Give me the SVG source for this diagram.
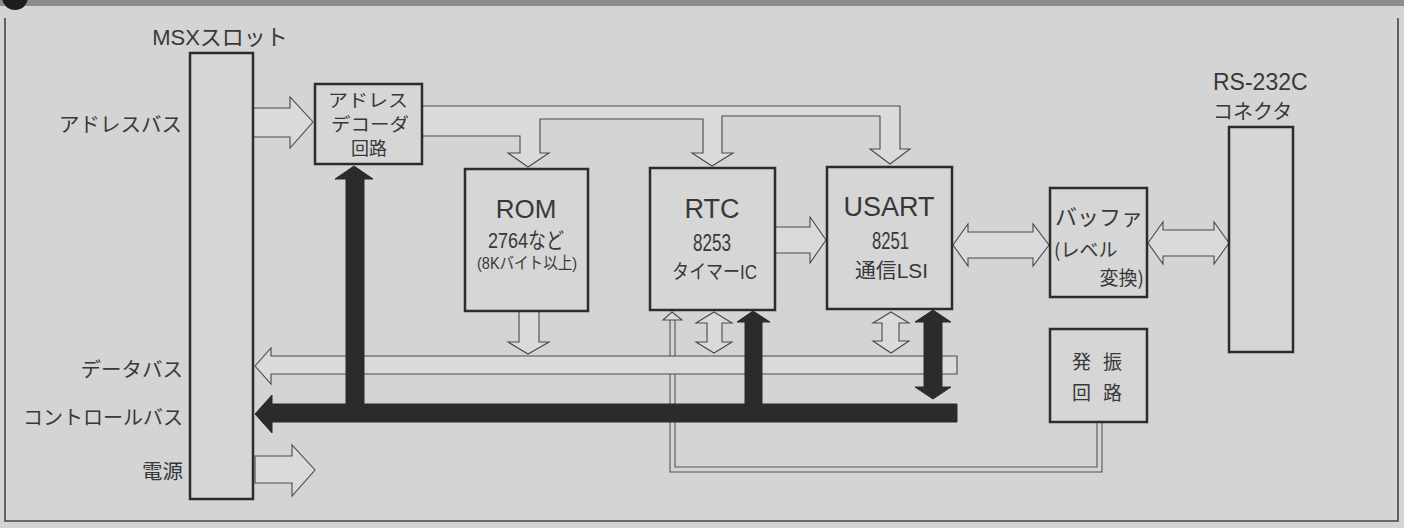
<svg xmlns="http://www.w3.org/2000/svg" width="1404" height="528" viewBox="0 0 1404 528">
<defs>
<style>
.box{fill:#d6d6d6;stroke:#2c2c2c;stroke-width:2.5}
.hol{fill:#dadada;stroke:#4a4a4a;stroke-width:1.1;stroke-linejoin:miter}
.blk{fill:#2b2b2b;stroke:#2b2b2b;stroke-width:1}
.thin{fill:none;stroke:#555;stroke-width:1.1}
.frame{fill:none;stroke:#444;stroke-width:1.6}
text{fill:#383838;font-family:"Liberation Sans","Noto Sans CJK JP",sans-serif}
.jp{font-family:"Noto Sans CJK JP","Liberation Sans",sans-serif}
</style>
</defs>
<rect x="0" y="0" width="1404" height="528" fill="#d4d4d4"/>
<rect x="0" y="0" width="1404" height="6" fill="#8c8c8c"/>
<circle cx="15" cy="-3" r="13" fill="#1e1e1e"/>
<path class="frame" d="M5,18 V521 H1398 V18"/>

<g id="connectors">
  <!-- clock line from oscillator to RTC -->
  <polyline class="thin" points="675,320 675,467 1097,467 1097,422"/>
  <polyline class="thin" points="670,320 670,472 1102,472 1102,422"/>
  <path class="hol" d="M672,312 L682,320 H663 Z"/>
  <!-- address bus slot -> decoder -->
  <path class="hol" d="M252,108 H290 V97 L313,122 L290,148 V137 H252 Z"/>
  <!-- address bus decoder -> ROM/RTC/USART -->
  <path class="hol" d="M422,106 H900 V149 H910 L890,164 L870,149 H880 V116 H722 V153 H733 L712,166 L692,153 H703 V119 H540 V153 H549 L528,167 L508,153 H520 V136 H422 Z"/>
  <!-- RTC -> USART -->
  <path class="hol" d="M775,227 H810 V217 L826,240 L810,263 V253 H775 Z"/>
  <!-- USART <-> buffer -->
  <path class="hol" d="M953,245 L968,224 V232 H1033 V224 L1049,245 L1033,266 V258 H968 V266 Z"/>
  <!-- buffer <-> RS-232C -->
  <path class="hol" d="M1148,243 L1163,222 V230 H1214 V222 L1229,243 L1214,264 V256 H1163 V264 Z"/>
  <!-- data bus -->
  <path class="hol" d="M255,366 L271,348 V356 H957 V374 H271 V384 Z"/>
  <!-- ROM -> data bus -->
  <path class="hol" d="M519,311 V342 H508 L528,354 L549,342 H539 V311 Z"/>
  <!-- RTC <-> data bus -->
  <path class="hol" d="M714,312 L732,323 H722 V342 H732 L714,353 L696,342 H707 V323 H696 Z"/>
  <!-- USART <-> data bus -->
  <path class="hol" d="M891,312 L909,323 H899 V341 H909 L891,353 L873,341 H882 V323 H873 Z"/>
  <!-- power -->
  <path class="hol" d="M255,456 H292 V445 L315,470 L292,496 V483 H255 Z"/>
  <!-- control bus -->
  <path class="blk" d="M255,414 L272,395 V404 H957 V422 H272 V433 Z"/>
  <path class="blk" d="M346,404 V179 H335 L354,166 L373,179 H364 V404 Z"/>
  <path class="blk" d="M745,404 V322 H737 L753,311 L770,322 H762 V404 Z"/>
  <path class="blk" d="M924,387 V322 H915 L933,310 L951,322 H942 V387 H951 L933,399 L915,387 Z"/>
</g>

<g id="msx-slot">
  <rect class="box" x="190" y="53" width="63" height="446"/>
  <text x="220" y="45" font-size="22" text-anchor="middle">MSXスロット</text>
</g>
<g id="labels-left">
  <text class="jp" x="182" y="132" font-size="20.5" text-anchor="end">アドレスバス</text>
  <text class="jp" x="183" y="377" font-size="20.5" text-anchor="end">データバス</text>
  <text class="jp" x="183" y="425" font-size="20" text-anchor="end">コントロールバス</text>
  <text class="jp" x="183" y="479" font-size="20.5" text-anchor="end">電源</text>
</g>
<g id="decoder">
  <rect class="box" x="315" y="84" width="107" height="80"/>
  <text x="328" y="107" font-size="18" textLength="80" lengthAdjust="spacingAndGlyphs">アドレス</text>
  <text x="331" y="131" font-size="18" textLength="78" lengthAdjust="spacingAndGlyphs">デコーダ</text>
  <text x="369" y="155" font-size="18" text-anchor="middle">回路</text>
</g>
<g id="rom">
  <rect class="box" x="465" y="169" width="123" height="142"/>
  <text x="526" y="218" font-size="26" text-anchor="middle">ROM</text>
  <text x="488" y="248" font-size="22" textLength="76" lengthAdjust="spacingAndGlyphs">2764など</text>
  <text x="477" y="269" font-size="16.5" textLength="100" lengthAdjust="spacingAndGlyphs">(8Kバイト以上)</text>
</g>
<g id="rtc">
  <rect class="box" x="650" y="168" width="125" height="142"/>
  <text x="712" y="218" font-size="27" text-anchor="middle">RTC</text>
  <text x="693" y="251" font-size="24" textLength="38" lengthAdjust="spacingAndGlyphs">8253</text>
  <text x="672" y="279" font-size="20" textLength="85" lengthAdjust="spacingAndGlyphs">タイマーIC</text>
</g>
<g id="usart">
  <rect class="box" x="827" y="167" width="125" height="142"/>
  <text x="889" y="216" font-size="27" text-anchor="middle">USART</text>
  <text x="872" y="249" font-size="24" textLength="37" lengthAdjust="spacingAndGlyphs">8251</text>
  <text x="855" y="278" font-size="20" textLength="73" lengthAdjust="spacingAndGlyphs">通信LSI</text>
</g>
<g id="buffer">
  <rect class="box" x="1050" y="188" width="97" height="109"/>
  <text class="jp" x="1055" y="225" font-size="22" textLength="88" lengthAdjust="spacingAndGlyphs">バッファ</text>
  <text class="jp" x="1054" y="257" font-size="19">(レベル</text>
  <text class="jp" x="1144" y="285" font-size="19" text-anchor="end">変換)</text>
</g>
<g id="oscillator">
  <rect class="box" x="1050" y="329" width="97" height="93"/>
  <text class="jp" x="1072" y="369" font-size="19" letter-spacing="12">発振</text>
  <text class="jp" x="1072" y="400" font-size="19" letter-spacing="12">回路</text>
</g>
<g id="rs232c">
  <rect class="box" x="1229" y="127" width="64" height="225"/>
  <text x="1213" y="90" font-size="23">RS-232C</text>
  <text class="jp" x="1213" y="119" font-size="20">コネクタ</text>
</g>
</svg>
